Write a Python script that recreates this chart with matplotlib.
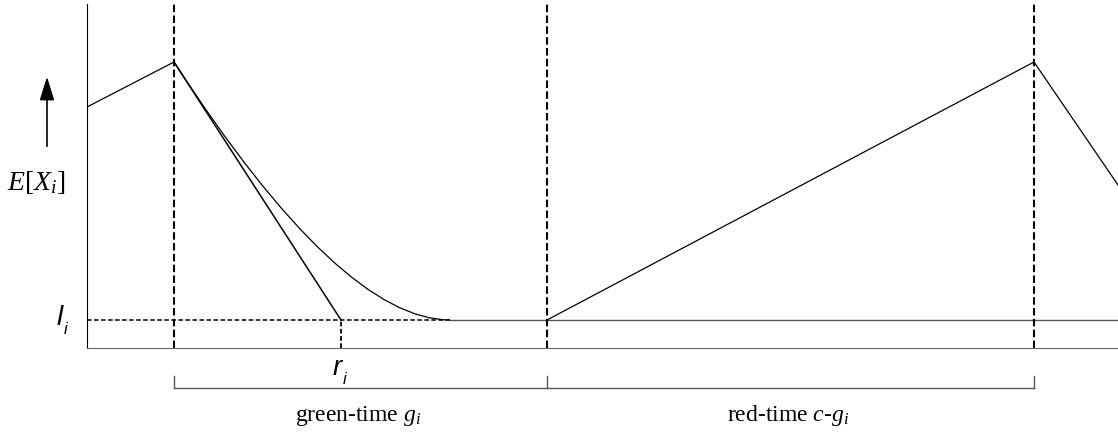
import matplotlib.pyplot as plt
from matplotlib.path import Path
from matplotlib.patches import PathPatch

plt.rcParams['mathtext.fontset'] = 'custom'
plt.rcParams['mathtext.rm'] = 'Liberation Serif'
plt.rcParams['mathtext.it'] = 'Liberation Serif:italic'

# time positions (arbitrary units) of green start, green end, cycle end
phase_times = [87, 460, 947]
t_max = 1031
y_max = 344

# expected queue E[X_i]
level_l = 28
prev_red_t = [0, 87]
prev_red_q = [241, 286]
linear_t = [87, 254]
linear_q = [286, 28]
curve_ctrl = [(87, 286), (254, 28), (363, 28)]
red_t = [460, 947]
red_q = [28, 286]
next_t = [947, 1031]
next_q = [286, 163]
r_i = 254

phase_labels = ['green-time $g_i$', 'red-time $c$-$g_i$']


def main():
    fig = plt.figure(figsize=(11.18, 4.33), dpi=100)
    ax = fig.add_axes([87 / 1118, 85 / 433, 1031 / 1118, 344 / 433])
    ax.set_xlim(0, t_max)
    ax.set_ylim(0, y_max)
    for s in ['top', 'right']:
        ax.spines[s].set_visible(False)
    ax.spines['left'].set_color('black')
    ax.spines['bottom'].set_color('#666666')
    ax.set_xticks([])
    ax.set_yticks([])

    lw = 0.9
    ax.plot(prev_red_t, prev_red_q, color='black', lw=lw)
    ax.plot(linear_t, linear_q, color='black', lw=1.1)
    path = Path(curve_ctrl, [Path.MOVETO, Path.CURVE3, Path.CURVE3])
    ax.add_patch(PathPatch(path, fill=False, edgecolor='black', lw=lw))
    ax.plot(red_t, red_q, color='black', lw=lw)
    ax.plot(next_t, next_q, color='black', lw=lw)

    # l_i level
    ax.plot([0, curve_ctrl[-1][0]], [level_l, level_l], color='black', lw=1.1,
            dashes=(3.0, 1.6))
    ax.plot([curve_ctrl[-1][0], t_max], [level_l, level_l], color='#555555', lw=1.0)
    ax.plot([r_i, r_i], [0, level_l], color='black', lw=1.3, dashes=(2.6, 1.4))

    for t in phase_times:
        ax.axvline(t, color='black', lw=1.5, dashes=(3.6, 1.6))

    # brackets under the axis
    b_top, b_bot = -28, -40
    for t in phase_times:
        ax.plot([t, t], [b_top, b_bot], color='#555555', lw=1.0, clip_on=False)
    ax.plot([phase_times[0], phase_times[-1]], [b_bot, b_bot], color='#555555',
            lw=1.0, clip_on=False)
    for i, lab in enumerate(phase_labels):
        mid = (phase_times[i] + phase_times[i + 1]) / 2
        ax.text(mid - 2, -68, lab, ha='center', va='center', fontsize=17,
                family='Liberation Serif')

    # y label with arrow
    ax.annotate('', xy=(-40, 274), xytext=(-40, 199),
                arrowprops=dict(arrowstyle='-|>,head_length=0.8,head_width=0.25',
                                color='black', lw=1.2, mutation_scale=18),
                annotation_clip=False)
    ax.text(-51, 166, '$E[X_i]$', ha='center', va='center', fontsize=20)

    # l_i and r_i labels
    ax.text(-24, 30, 'l', ha='right', va='center', fontsize=20,
            family='Liberation Sans', style='italic')
    ax.text(-23, 18, 'i', ha='left', va='center', fontsize=12,
            family='Liberation Sans', style='italic')
    ax.text(r_i + 1, -20, 'r', ha='right', va='center', fontsize=20,
            family='Liberation Sans', style='italic')
    ax.text(r_i + 2, -32, 'i', ha='left', va='center', fontsize=12,
            family='Liberation Sans', style='italic')

    fig.savefig('out.png', dpi=100)


if __name__ == "__main__":
    main()
